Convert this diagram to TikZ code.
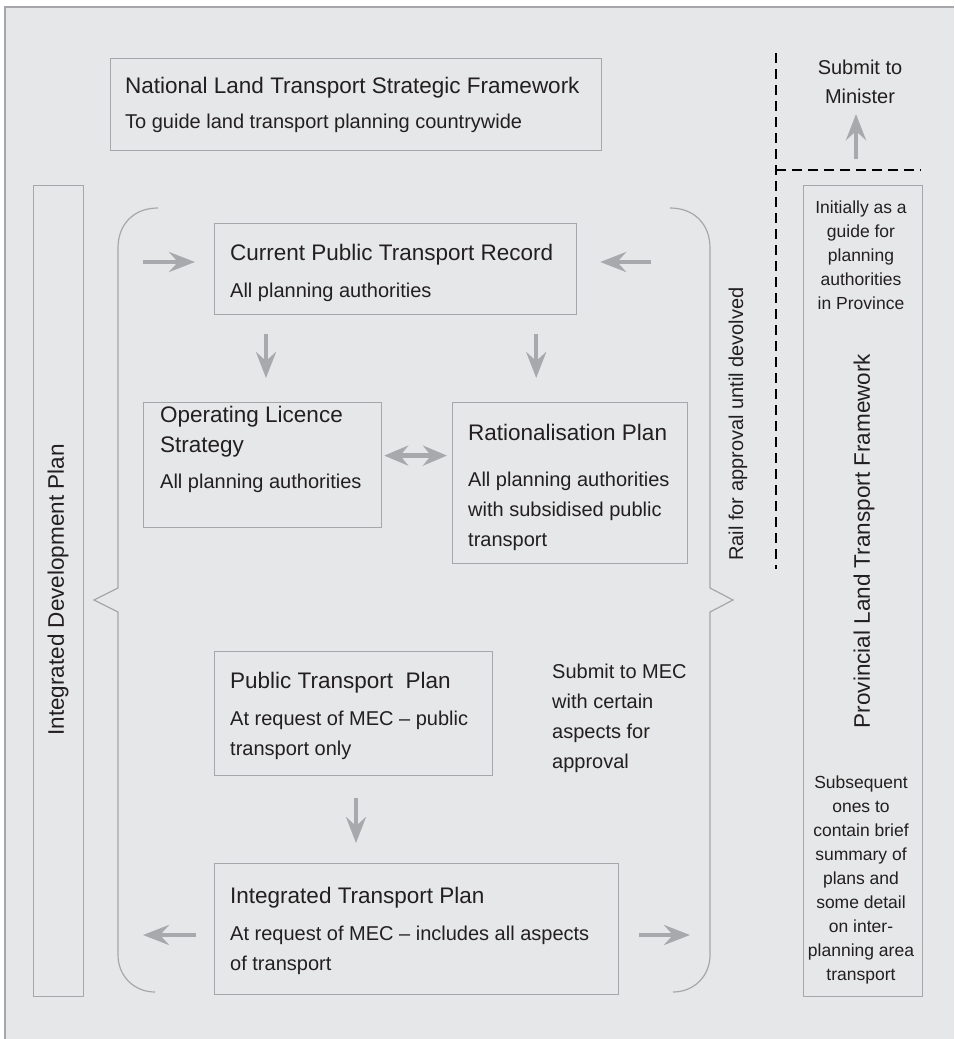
\documentclass[tikz,border=0pt]{standalone}
\usepackage{fontspec}
\setmainfont{Liberation Sans}
\usetikzlibrary{arrows.meta}

\definecolor{bg}{HTML}{E6E7E8}
\definecolor{rule}{HTML}{A5A7AA}
\definecolor{arrowgrey}{HTML}{A7A9AC}
\definecolor{ink}{HTML}{231F20}

\newcommand{\ttl}{\fontsize{22.5}{30}\selectfont}
\newcommand{\bdy}{\fontsize{20}{30}\selectfont}
\newcommand{\sml}{\fontsize{17.5}{24}\selectfont}

\begin{document}
\begin{tikzpicture}[x=1pt, y=-1pt,
    box/.style={draw=rule, line width=1.2pt, anchor=north west, inner sep=0pt},
    txt/.style={anchor=north west, inner sep=0pt, align=left, text=ink, font=\bdy},
    side/.style={anchor=north, inner sep=0pt, align=center, text=ink, font=\sml},
    upright/.style={rotate=90, inner sep=0pt, text=ink, font=\ttl},
    flow/.style={draw=arrowgrey, line width=4.5pt, -{Stealth[length=26pt, width=20pt, inset=9pt]}},
    flowboth/.style={draw=arrowgrey, line width=4.5pt, {Stealth[length=24pt, width=20pt, inset=8pt]}-{Stealth[length=24pt, width=20pt, inset=8pt]}},
    brace/.style={draw=rule, line width=1.2pt},
    split/.style={draw=black, line width=2.5pt, dash pattern=on 10pt off 6pt}]

    \useasboundingbox (0,0) rectangle (954,1039);
    \fill[white] (0,0) rectangle (954,1039);
    \fill[bg] (5,7) rectangle (954,1039);
    \draw[rule, line width=1.2pt] (5,1039) -- (5,7) -- (954,7);

    % boxes
    \node[box, minimum width=491pt, minimum height=92pt] (NLTSF) at (110,58) {};
    \node[box, minimum width=362pt, minimum height=91pt] (CPTR) at (214,223) {};
    \node[box, minimum width=238pt, minimum height=125pt] (OLS) at (143,402) {};
    \node[box, minimum width=235pt, minimum height=161pt] (RP) at (452,402) {};
    \node[box, minimum width=278pt, minimum height=124pt] (PTP) at (214,651) {};
    \node[box, minimum width=404pt, minimum height=131pt] (ITP) at (214,863) {};
    \node[box, minimum width=50pt, minimum height=811pt] (IDP) at (33,185) {};
    \node[box, minimum width=119pt, minimum height=811pt] (PLTF) at (803,185) {};

    \node[txt] (NLTSF-t) at (125,77) {{\ttl National Land Transport Strategic Framework}\\[5pt]To guide land transport planning countrywide};
    \node[txt] (CPTR-t) at (230,244) {{\ttl Current Public Transport Record}\\[7pt]All planning authorities};
    \node[txt] (OLS-t) at (160,406) {{\ttl Operating Licence}\\{\ttl Strategy}\\[6pt]All planning authorities};
    \node[txt] (RP-t) at (468,424) {{\ttl Rationalisation Plan}\\[16pt]All planning authorities\\with subsidised public\\transport};
    \node[txt] (PTP-t) at (230,672) {{\ttl Public Transport~ Plan}\\[7pt]At request of MEC -- public\\transport only};
    \node[txt] (ITP-t) at (230,887) {{\ttl Integrated Transport Plan}\\[7pt]At request of MEC -- includes all aspects\\of transport};
    \node[upright] (IDP-t) at (58,590) {Integrated Development Plan};
    \node[upright] (PLTF-t) at (864,541) {Provincial Land Transport Framework};
    \node[side] (PLTF-a) at (861,200.5) {Initially as a\\guide for\\planning\\authorities\\in Province};
    \node[side] (PLTF-b) at (861,775.5) {Subsequent\\ones to\\contain brief\\summary of\\plans and\\some detail\\on inter-\\planning area\\transport};

    \node[txt] (MEC) at (552,664) {Submit to MEC\\with certain\\aspects for\\approval};
    \node[side, font=\fontsize{20}{29}\selectfont] (SM) at (860,60) {Submit to\\Minister};
    \node[upright, font=\bdy] (RAIL) at (738,424) {Rail for approval until devolved};

    % braces
    \draw[brace] (158,208) .. controls (134,208) and (118,224) .. (118,248) -- (118,588)
        -- (94,600) -- (118,612) -- (118,955) .. controls (118,976) and (134,992) .. (155,992);
    \draw[brace] (670,208) .. controls (694,208) and (710,224) .. (710,248) -- (710,588)
        -- (733,600) -- (710,612) -- (710,955) .. controls (710,976) and (694,992) .. (673,992);

    % submission line
    \draw[split] (776,53) -- (776,569);
    \draw[split] (776,170) -- (921,170);

    % arrows
    \coordinate (inL) at (143,262);
    \coordinate (inR) at (651,262);
    \coordinate (dL) at ([xshift=52pt]CPTR.south west);
    \coordinate (dR) at ([xshift=-41pt]CPTR.south east);
    \coordinate (lr) at ([yshift=9.5pt]OLS.east);
    \coordinate (dP) at ([xshift=142pt]PTP.south west);
    \coordinate (outL) at (143,935);
    \coordinate (outR) at (690,935);
    \coordinate (up) at (856,159);

    \draw[flow, shorten >=19pt] (inL) -- (inL -| CPTR.west);
    \draw[flow, shorten >=23pt] (inR) -- (inR -| CPTR.east);
    \draw[flow, shorten <=19pt, shorten >=24pt] (dL) -- (dL |- OLS.north);
    \draw[flow, shorten <=19pt, shorten >=24pt] (dR) -- (dR |- RP.north);
    \draw[flowboth, shorten <=2pt, shorten >=5pt] (lr) -- (lr -| RP.west);
    \draw[flow, shorten <=22pt, shorten >=20pt] (dP) -- (dP |- ITP.north);
    \draw[flow, shorten <=18pt] (outL -| ITP.west) -- (outL);
    \draw[flow, shorten <=20pt] (outR -| ITP.east) -- (outR);
    \draw[flow, shorten >=10pt] (up) -- (up |- SM.south);
\end{tikzpicture}
\end{document}
